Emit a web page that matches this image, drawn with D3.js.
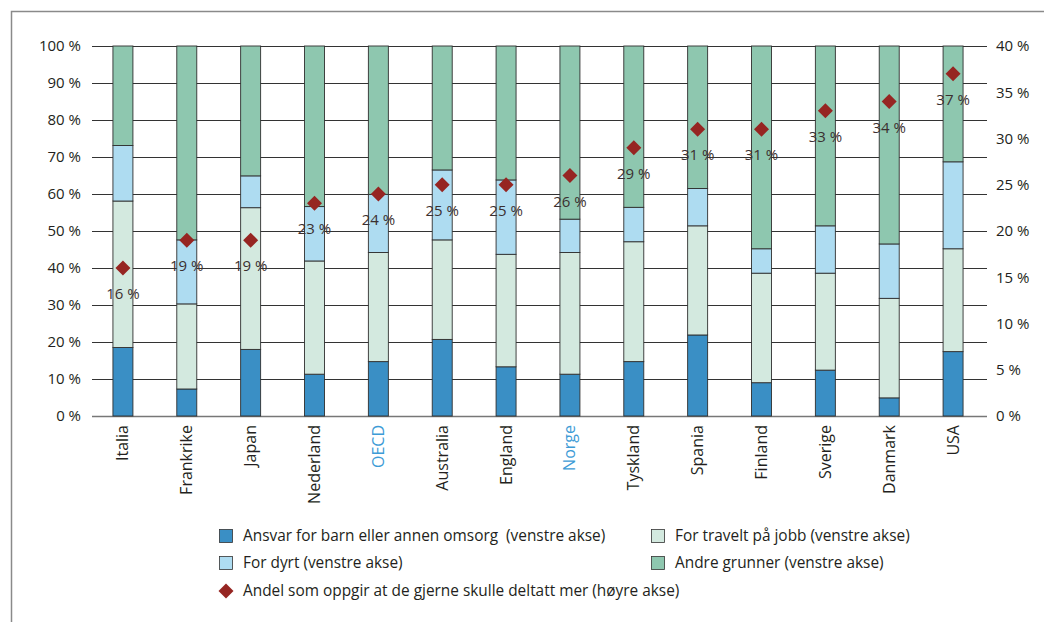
<!DOCTYPE html>
<html><head><meta charset="utf-8">
<script src="https://cdn.jsdelivr.net/npm/d3@7"></script>
<style>
html,body{margin:0;padding:0;background:#fff;}
svg{display:block;font-family:"Open Sans",sans-serif;}
</style></head>
<body><svg id="c" width="1044" height="622"></svg>
<script>
const categories = ["Italia","Frankrike","Japan","Nederland","OECD","Australia","England","Norge","Tyskland","Spania","Finland","Sverige","Danmark","USA"];
const ansvar   = [18.5, 7.3, 18.0, 11.3, 14.7, 20.7, 13.3, 11.3, 14.7, 21.9, 9.0, 12.4, 4.9, 17.4];
const travelt  = [39.6, 23.0, 38.3, 30.6, 29.5, 26.9, 30.4, 32.9, 32.4, 29.5, 29.6, 26.2, 26.9, 27.8];
const dyrt     = [15.0, 17.3, 8.6, 14.7, 15.7, 18.9, 20.1, 9.0, 9.3, 10.1, 6.6, 12.8, 14.7, 23.5];
const andre    = [26.9, 52.4, 35.1, 43.4, 40.1, 33.5, 36.2, 46.8, 43.6, 38.5, 54.8, 48.6, 53.5, 31.3];
const andel    = [16, 19, 19, 23, 24, 25, 25, 26, 29, 31, 31, 33, 34, 37];
const leftTicks  = [0,10,20,30,40,50,60,70,80,90,100];
const rightTicks = [0,5,10,15,20,25,30,35,40];
const highlighted = ["OECD","Norge"];
const seriesNames = [
  "Ansvar for barn eller annen omsorg\u00a0 (venstre akse)",
  "For travelt på jobb (venstre akse)",
  "For dyrt (venstre akse)",
  "Andre grunner (venstre akse)"
];
const diamondName = "Andel som oppgir at de gjerne skulle deltatt mer (høyre akse)";

const colors = ["#3a8fc5","#d3e9df","#aedcf1","#8ec7af"];
const diamondColor = "#962522";

const svg = d3.select("#c");
// frame
svg.append("path").attr("d","M11.5,622 L11.5,11.5 L1044,11.5")
  .attr("fill","none").attr("stroke","#8a8a8a").attr("stroke-width",1.5);

const x = d3.scaleBand().domain(categories).range([91,985]).paddingInner(0.687).paddingOuter(0.3435);
const yL = d3.scaleLinear().domain([0,100]).range([416,46]);
const yR = d3.scaleLinear().domain([0,40]).range([416,46]);

// gridlines
svg.append("g").selectAll("line").data(leftTicks).join("line")
  .attr("x1",92).attr("x2",987)
  .attr("y1",d=>Math.round(yL(d))+0.5).attr("y2",d=>Math.round(yL(d))+0.5)
  .attr("stroke",d=>d===0?"#777":"#333").attr("stroke-width",d=>d===0?1.5:1);

// left axis labels
const axL = d3.axisLeft(yL).tickValues(leftTicks).tickFormat(d=>d+" %").tickSize(0).tickPadding(0);
const gL = svg.append("g").attr("transform","translate(81,0)").call(axL);
gL.select(".domain").remove();
gL.selectAll("text").attr("font-size",15).attr("fill","#231f20").attr("font-family","Open Sans");

const axR = d3.axisRight(yR).tickValues(rightTicks).tickFormat(d=>d+" %").tickSize(0).tickPadding(0);
const gR = svg.append("g").attr("transform","translate(996,0)").call(axR);
gR.select(".domain").remove();
gR.selectAll("text").attr("font-size",15).attr("fill","#231f20").attr("font-family","Open Sans");

// stacked bars
const rows = categories.map((c,i)=>({cat:c, a:ansvar[i], t:travelt[i], d:dyrt[i], o:andre[i]}));
const stack = d3.stack().keys(["a","t","d","o"]);
const layers = stack(rows);
svg.append("g").selectAll("g").data(layers).join("g")
  .attr("fill",(d,i)=>colors[i])
  .selectAll("rect").data(d=>d).join("rect")
  .attr("x",d=>x(d.data.cat)).attr("width",x.bandwidth())
  .attr("y",d=>yL(d[1])).attr("height",d=>yL(d[0])-yL(d[1]))
  .attr("stroke","#2f2f2f").attr("stroke-width",0.9);

// x labels
const gx = svg.append("g");
gx.selectAll("text").data(categories).join("text")
  .attr("transform",d=>`translate(${x(d)+x.bandwidth()/2+5.5},425) rotate(-90)`)
  .attr("text-anchor","end")
  .attr("font-size",16)
  .attr("fill",d=>highlighted.includes(d)?"#3d9bd6":"#231f20")
  .text(d=>d);

// diamonds
const ds = 7.5;
svg.append("g").selectAll("path").data(andel).join("path")
  .attr("d",(d,i)=>{const cx=x(categories[i])+x.bandwidth()/2, cy=yR(d);
     return `M${cx},${cy-ds} L${cx+ds},${cy} L${cx},${cy+ds} L${cx-ds},${cy} Z`;})
  .attr("fill",diamondColor);
svg.append("g").selectAll("text").data(andel).join("text")
  .attr("x",(d,i)=>x(categories[i])+x.bandwidth()/2)
  .attr("y",d=>yR(d)+31)
  .attr("text-anchor","middle").attr("font-size",15)
  .attr("fill","#3b3030")
  .text(d=>d+" %");

// legend
const legend = [
  {name:seriesNames[0], color:colors[0], x:219, y:536},
  {name:seriesNames[1], color:colors[1], x:651, y:536},
  {name:seriesNames[2], color:colors[2], x:219, y:563},
  {name:seriesNames[3], color:colors[3], x:651, y:563}
];
const lg = svg.append("g");
legend.forEach(l=>{
  lg.append("rect").attr("x",l.x+0.5).attr("y",l.y-6.5).attr("width",13).attr("height",13)
    .attr("fill",l.color).attr("stroke","#333").attr("stroke-width",0.8);
  lg.append("text").attr("x",l.x+24).attr("y",l.y+5).attr("font-size",15.4).attr("fill","#231f20").text(l.name);
});
const dx=226, dy=591;
lg.append("path").attr("d",`M${dx},${dy-7.5} L${dx+7.5},${dy} L${dx},${dy+7.5} L${dx-7.5},${dy} Z`).attr("fill",diamondColor);
lg.append("text").attr("x",243).attr("y",dy+5).attr("font-size",15.4).attr("fill","#231f20").text(diamondName);
</script></body></html>
